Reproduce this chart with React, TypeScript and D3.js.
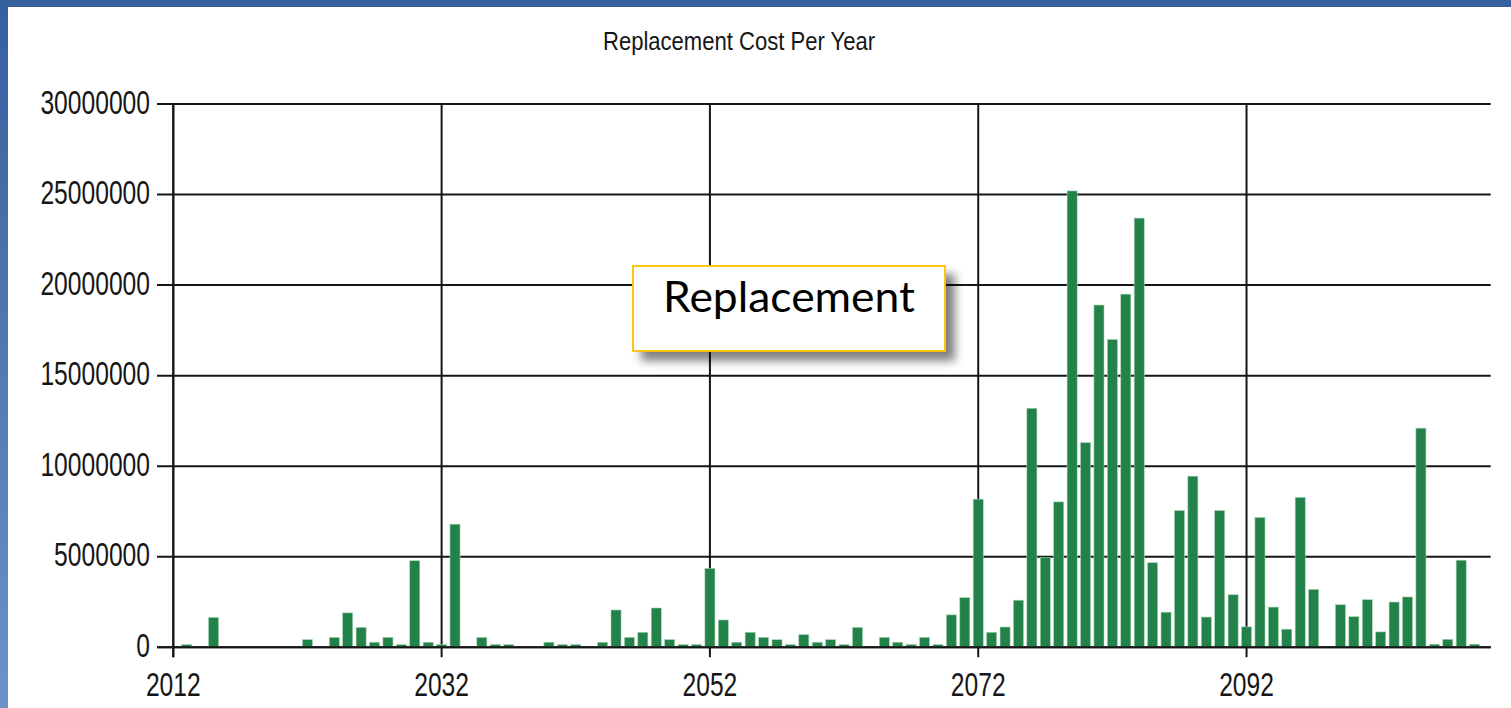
import React from "react";
import * as d3 from "d3";

// yearly replacement cost, only the years that have a bar
const years = [
  2013, 2015, 2022, 2024, 2025, 2026, 2027, 2028, 2029, 2030, 2031, 2032, 2033,
  2035, 2036, 2037, 2040, 2041, 2042, 2044, 2045, 2046, 2047, 2048, 2049, 2050,
  2051, 2052, 2053, 2054, 2055, 2056, 2057, 2058, 2059, 2060, 2061, 2062, 2063,
  2065, 2066, 2067, 2068, 2069, 2070, 2071, 2072, 2073, 2074, 2075, 2076, 2077,
  2078, 2079, 2080, 2081, 2082, 2083, 2084, 2085, 2086, 2087, 2088, 2089, 2090,
  2091, 2092, 2093, 2094, 2095, 2096, 2097, 2099, 2100, 2101, 2102, 2103, 2104,
  2105, 2106, 2107, 2108, 2109,
];
const costs = [
  150000, 1650000, 420000, 550000, 1900000, 1100000, 280000, 550000, 150000,
  4780000, 280000, 150000, 6800000, 550000, 150000, 150000, 280000, 150000,
  150000, 280000, 2060000, 550000, 830000, 2170000, 420000, 150000, 150000,
  4360000, 1510000, 280000, 830000, 550000, 420000, 150000, 700000, 280000,
  420000, 150000, 1100000, 550000, 280000, 150000, 550000, 150000, 1790000,
  2740000, 8180000, 830000, 1120000, 2600000, 13200000, 4970000, 8030000,
  25200000, 11300000, 18900000, 17000000, 19500000, 23700000, 4670000, 1940000,
  7550000, 9450000, 1670000, 7550000, 2900000, 1130000, 7170000, 2220000,
  1000000, 8280000, 3200000, 2350000, 1690000, 2630000, 850000, 2500000,
  2780000, 12100000, 170000, 440000, 4810000, 170000,
];
const yTicks = [0, 5000000, 10000000, 15000000, 20000000, 25000000, 30000000];
const xTicks = [2012, 2032, 2052, 2072, 2092];
const chartTitle = "Replacement Cost Per Year";
const calloutText = "Replacement";

const W = 1511;
const H = 708;
const plot = { left: 173.3, right: 1490.7, top: 104, bottom: 647.3 };
const axisFont = "'Liberation Sans', Arial, sans-serif";
const ink = "#161616";

export default function App() {
  const x = d3.scaleLinear().domain([2012, 2110.2]).range([plot.left, plot.right]);
  const y = d3.scaleLinear().domain([0, 30000000]).range([plot.bottom, plot.top]);
  const step = x(2013) - x(2012);
  const barW = step * 0.75;
  const charW = 13.7;

  return (
    <svg
      width={W}
      height={H}
      style={{ position: "absolute", left: 0, top: 0, display: "block" }}
    >
      <defs>
        <linearGradient id="frame" x1="0" y1="0" x2="0" y2="1">
          <stop offset="0" stopColor="#35609e" />
          <stop offset="1" stopColor="#6b93c8" />
        </linearGradient>
        <filter id="shadow" x="-20%" y="-30%" width="150%" height="180%">
          <feDropShadow dx="9" dy="9" stdDeviation="5" floodColor="#000" floodOpacity="0.5" />
        </filter>
      </defs>

      {/* slide frame */}
      <rect x={0} y={0} width={W} height={H} fill="url(#frame)" />
      <rect x={8} y={7} width={W - 8} height={H - 7} fill="#ffffff" />

      <text
        x={739}
        y={50}
        textAnchor="middle"
        fontFamily={axisFont}
        fontSize={25}
        fill={ink}
        textLength={272}
        lengthAdjust="spacingAndGlyphs"
      >
        {chartTitle}
      </text>

      {/* horizontal grid + y labels */}
      {yTicks.map((t) => (
        <g key={t}>
          <line
            x1={157}
            x2={plot.right}
            y1={y(t)}
            y2={y(t)}
            stroke={ink}
            strokeWidth={2}
          />
          <text
            x={150}
            y={y(t) + 9.5}
            textAnchor="end"
            fontFamily={axisFont}
            fontSize={33}
            fill={ink}
            textLength={String(t).length * charW}
            lengthAdjust="spacingAndGlyphs"
          >
            {t}
          </text>
        </g>
      ))}

      {/* vertical grid + x labels */}
      {xTicks.map((t) => (
        <g key={t}>
          <line
            x1={x(t)}
            x2={x(t)}
            y1={plot.top}
            y2={plot.bottom + 10}
            stroke={ink}
            strokeWidth={2}
          />
          <text
            x={x(t)}
            y={696}
            textAnchor="middle"
            fontFamily={axisFont}
            fontSize={33}
            fill={ink}
            textLength={String(t).length * charW}
            lengthAdjust="spacingAndGlyphs"
          >
            {t}
          </text>
        </g>
      ))}

      {/* bars */}
      {years.map((yr, i) => (
        <rect
          key={yr}
          x={x(yr) - barW / 2}
          y={y(costs[i])}
          width={barW}
          height={y(0) - y(costs[i])}
          fill="#22824a"
          stroke="#a8d4b2"
          strokeWidth={0.6}
        />
      ))}

      <line
        x1={157}
        x2={plot.right}
        y1={y(0)}
        y2={y(0)}
        stroke={ink}
        strokeWidth={2}
      />
      <line
        x1={plot.left}
        x2={plot.left}
        y1={plot.top}
        y2={plot.bottom + 10}
        stroke={ink}
        strokeWidth={2}
      />

      {/* callout box */}
      <rect
        x={633}
        y={266}
        width={312}
        height={85}
        fill="#ffffff"
        stroke="#ffc000"
        strokeWidth={1.8}
        filter="url(#shadow)"
      />
      <text
        x={789}
        y={311.5}
        textAnchor="middle"
        fontFamily="Lato, 'Open Sans', sans-serif"
        fontSize={42}
        fill="#000"
        textLength={252}
        lengthAdjust="spacingAndGlyphs"
      >
        {calloutText}
      </text>
    </svg>
  );
}
